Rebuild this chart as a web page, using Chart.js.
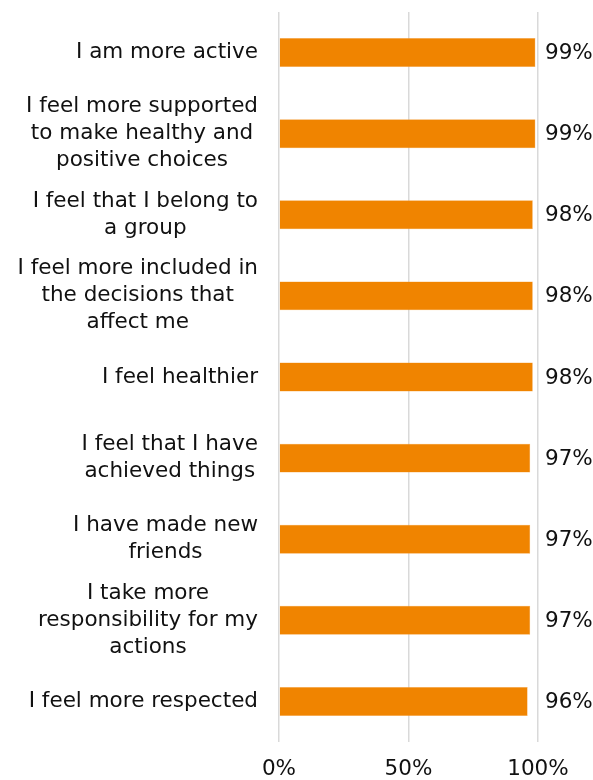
<!DOCTYPE html>
<html>
<head>
<meta charset="utf-8">
<script src="https://cdn.jsdelivr.net/npm/chart.js@4"></script>
<style>
  html, body { margin: 0; padding: 0; background: #fff; }
  #wrap { width: 593px; height: 780px; }
</style>
</head>
<body>
<div id="wrap"><canvas id="feelings"></canvas></div>
<script>
const categories = [
  ['I am more active'],
  ['I feel more supported', 'to make healthy and', 'positive choices'],
  ['I feel that I belong to', 'a group'],
  ['I feel more included in', 'the decisions that', 'affect me'],
  ['I feel healthier'],
  ['I feel that I have', 'achieved things'],
  ['I have made new', 'friends'],
  ['I take more', 'responsibility for my', 'actions'],
  ['I feel more respected']
];
const agreePct = [99, 99, 98, 98, 98, 97, 97, 97, 96];
const xTicks = [0, 50, 100];

const FONT = '"DejaVu Sans", Verdana, sans-serif';
const FONT_SIZE = 21.5;
const LINE_H = 27;

// category labels: block right-aligned against the axis, lines centred in the block
const categoryLabels = {
  id: 'categoryLabels',
  afterDraw(chart) {
    const { ctx, scales: { y, x } } = chart;
    ctx.save();
    ctx.font = FONT_SIZE + 'px ' + FONT;
    ctx.fillStyle = '#111';
    ctx.textAlign = 'center';
    ctx.textBaseline = 'middle';
    const right = x.left - 21;
    categories.forEach((lines, i) => {
      const cy = y.getPixelForTick(i);
      const w = Math.max(...lines.map(l => ctx.measureText(l).width));
      const cx = right - w / 2;
      const top = cy - (lines.length - 1) * LINE_H / 2;
      lines.forEach((l, j) => ctx.fillText(l, cx, top + j * LINE_H));
    });
    ctx.restore();
  }
};

// value labels in a column just right of the plot area
const valueLabels = {
  id: 'valueLabels',
  afterDatasetsDraw(chart) {
    const { ctx, scales: { x } } = chart;
    const meta = chart.getDatasetMeta(0);
    ctx.save();
    ctx.font = FONT_SIZE + 'px ' + FONT;
    ctx.fillStyle = '#111';
    ctx.textAlign = 'left';
    ctx.textBaseline = 'middle';
    meta.data.forEach((bar, i) => {
      ctx.fillText(agreePct[i] + '%', x.right + 7, bar.y + 1);
    });
    ctx.restore();
  }
};

new Chart(document.getElementById('feelings'), {
  type: 'bar',
  data: {
    labels: categories,
    datasets: [{
      data: agreePct,
      backgroundColor: '#f08400',
      borderColor: '#f7a64a',
      borderWidth: 0.5,
      barPercentage: 0.357,
      categoryPercentage: 1
    }]
  },
  options: {
    indexAxis: 'y',
    responsive: true,
    maintainAspectRatio: false,
    animation: false,
    layout: { padding: { top: 12, right: 55, left: 0, bottom: 0 } },
    plugins: { legend: { display: false }, tooltip: { enabled: false } },
    scales: {
      x: {
        min: 0,
        max: 100,
        afterBuildTicks(scale) { scale.ticks = xTicks.map(v => ({ value: v })); },
        afterFit(scale) { scale.height = 38; },
        grid: { color: '#d9d9d9', lineWidth: 1.5, drawTicks: false },
        border: { display: false },
        ticks: {
          padding: 15,
          color: '#111',
          font: { family: FONT, size: FONT_SIZE },
          maxRotation: 0,
          callback: v => v + '%'
        }
      },
      y: {
        afterFit(scale) { scale.width = 279; },
        grid: { display: false },
        border: { display: false },
        ticks: { display: false }
      }
    }
  },
  plugins: [categoryLabels, valueLabels]
});
</script>
</body>
</html>
